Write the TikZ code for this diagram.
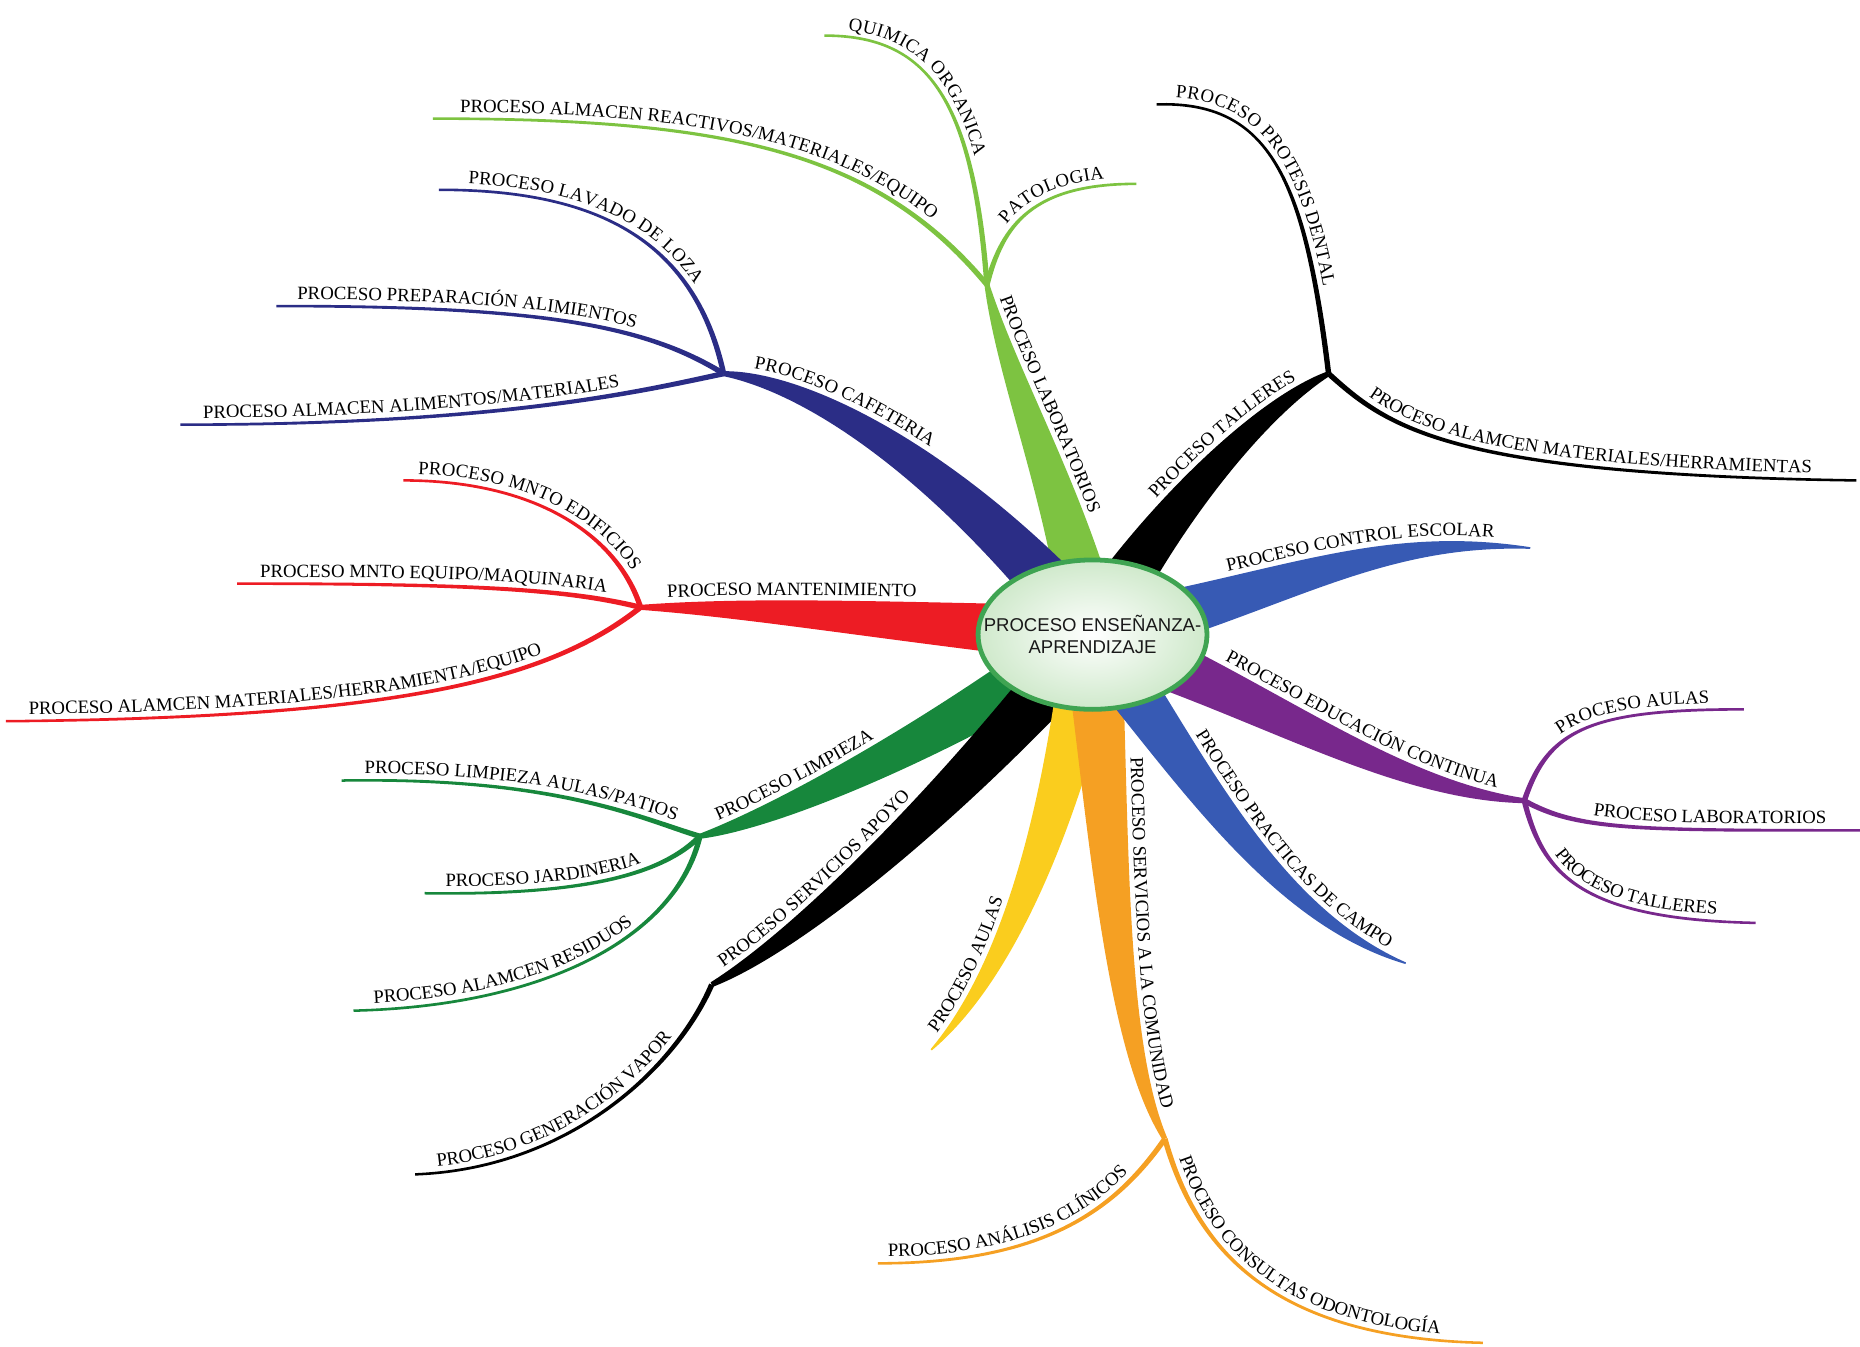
\documentclass[tikz,border=0pt]{standalone}
\usepackage{fontspec}
\setmainfont{Liberation Serif}
\newfontfamily\hubfont{Liberation Sans}
\usetikzlibrary{calc,decorations.text,shapes.geometric}

\definecolor{labgreen}{HTML}{7DC341}
\definecolor{cafnavy}{HTML}{2B2D86}
\definecolor{mntred}{HTML}{ED1C24}
\definecolor{limpgreen}{HTML}{17873C}
\definecolor{aulayellow}{HTML}{FACD1E}
\definecolor{comuorange}{HTML}{F5A023}
\definecolor{campblue}{HTML}{375AB4}
\definecolor{edupurple}{HTML}{78288C}
\definecolor{hubrim}{HTML}{3FA452}
\definecolor{hubfill}{HTML}{CFE9CB}

\newcommand{\lblfont}{\fontsize{9}{10}\selectfont}

% tapered branch: colour, start, control, control, end, half widths (pt), label, indent (pt)
\newcommand{\branch}[9]{%
  \fill[#1] ($(#2)!#6pt!90:(#3)$)
    .. controls ($(#3)!{(2*#6+#7)/3*1pt}!-90:(#2)$) and ($(#4)!{(#6+2*#7)/3*1pt}!90:(#5)$)
    .. ($(#5)!#7pt!-90:(#4)$)
    -- ($(#5)!#7pt!90:(#4)$)
    .. controls ($(#4)!{(#6+2*#7)/3*1pt}!-90:(#5)$) and ($(#3)!{(2*#6+#7)/3*1pt}!90:(#2)$)
    .. ($(#2)!#6pt!-90:(#3)$) -- cycle;
  \path[decorate, decoration={text along path, raise=2.5pt,
      text align={left indent=#9pt}, text={|\lblfont|#8}}]
    ($(#2)!#6pt!90:(#3)$)
    .. controls ($(#3)!{(2*#6+#7)/3*1pt}!-90:(#2)$) and ($(#4)!{(#6+2*#7)/3*1pt}!90:(#5)$)
    .. ($(#5)!#7pt!-90:(#4)$);
}

\tikzset{
  hub/.style={draw=hubrim, line width=2.3pt, inner color=white, outer color=hubfill},
  hubtext/.style={align=center, text=black!90, inner sep=0pt,
    font=\hubfont\fontsize{8.9}{10.5}\selectfont}
}

\begin{document}
\begin{tikzpicture}[x=0.02cm, y=-0.02cm]
	\useasboundingbox (0,0) rectangle (1568,1135);

	\coordinate (centre) at (921,535);
	\coordinate (lab) at (832,240);
	\coordinate (caf) at (610,315);
	\coordinate (mnt) at (540,512);
	\coordinate (limp) at (590,705);
	\coordinate (apoyo) at (600,830);
	\coordinate (aulatip) at (785,885);
	\coordinate (comu) at (982,960);
	\coordinate (practip) at (1185,812);
	\coordinate (edu) at (1285,675);
	\coordinate (esctip) at (1290,462);
	\coordinate (tall) at (1120,315);

	% laboratorios
	\branch{labgreen}{365,100}{620,100}{740,130}{lab}{0.6}{1.3}{PROCESO ALMACEN REACTIVOS/MATERIALES/EQUIPO}{13}
	\branch{labgreen}{695,30}{780,30}{820,80}{lab}{0.6}{1.3}{QUIMICA ORGANICA}{11}
	\branch{labgreen}{lab}{845,190}{870,155}{958,155}{1.3}{0.6}{PATOLOGIA}{30}
	\branch{labgreen}{lab}{850,320}{900,420}{centre}{1.2}{14}{PROCESO LABORATORIOS}{8}

	% cafeteria
	\branch{cafnavy}{370,160}{500,160}{585,200}{caf}{0.6}{1.3}{PROCESO LAVADO DE LOZA}{14}
	\branch{cafnavy}{233,258}{460,258}{545,275}{caf}{0.6}{1.3}{PROCESO PREPARACIÓN ALIMIENTOS}{10}
	\branch{cafnavy}{152,358}{420,358}{540,330}{caf}{0.6}{1.3}{PROCESO ALMACEN ALIMENTOS/MATERIALES}{11}
	\branch{cafnavy}{caf}{680,322}{800,390}{centre}{1.2}{14}{PROCESO CAFETERIA}{14}

	% mantenimiento
	\branch{mntred}{340,405}{450,405}{520,450}{mnt}{0.6}{1.3}{PROCESO MNTO EDIFICIOS}{7}
	\branch{mntred}{200,492}{400,492}{480,497}{mnt}{0.6}{1.3}{PROCESO MNTO EQUIPO/MAQUINARIA}{11}
	\branch{mntred}{5,608}{330,605}{460,575}{mnt}{0.6}{1.3}{PROCESO ALAMCEN MATERIALES/HERRAMIENTA/EQUIPO}{11}
	\branch{mntred}{mnt}{640,512}{760,525}{centre}{1.2}{14}{PROCESO MANTENIMIENTO}{13}

	% limpieza
	\branch{limpgreen}{288,658}{470,655}{540,690}{limp}{0.6}{1.3}{PROCESO LIMPIEZA AULAS/PATIOS}{11}
	\branch{limpgreen}{358,753}{500,755}{560,735}{limp}{0.6}{1.3}{PROCESO JARDINERIA}{10}
	\branch{limpgreen}{298,852}{460,848}{570,790}{limp}{0.6}{1.3}{PROCESO ALAMCEN RESIDUOS}{10}
	\branch{limpgreen}{limp}{650,690}{780,630}{centre}{1.2}{14}{PROCESO LIMPIEZA}{11}

	% servicios apoyo
	\branch{black}{350,990}{480,985}{570,900}{apoyo}{0.6}{1.3}{PROCESO GENERACIÓN VAPOR}{11}
	\branch{black}{apoyo}{670,795}{800,680}{centre}{1.2}{14}{PROCESO SERVICIOS APOYO}{9}

	% aulas
	\branch{aulayellow}{aulatip}{850,820}{895,690}{centre}{0.4}{14}{PROCESO AULAS}{8}

	% servicios a la comunidad
	\branch{comuorange}{740,1065}{880,1065}{940,1020}{comu}{0.6}{1.3}{PROCESO ANÁLISIS CLÍNICOS}{5}
	\branch{comuorange}{comu}{1010,1060}{1080,1128}{1250,1132}{1.3}{0.6}{PROCESO CONSULTAS ODONTOLOGÍA}{11}
	\branch{comuorange}{centre}{935,700}{940,880}{comu}{14}{1.2}{PROCESO SERVICIOS A LA COMUNIDAD}{60}

	% practicas de campo
	\branch{campblue}{centre}{1000,640}{1070,770}{practip}{14}{0.4}{PROCESO PRACTICAS DE CAMPO}{68}

	% educacion continua
	\branch{edupurple}{edu}{1305,615}{1340,598}{1470,598}{1.3}{0.6}{PROCESO AULAS}{36}
	\branch{edupurple}{edu}{1330,700}{1380,700}{1568,700}{1.3}{0.6}{PROCESO LABORATORIOS}{34}
	\branch{edupurple}{edu}{1300,735}{1330,775}{1480,778}{1.3}{0.6}{PROCESO TALLERES}{30}
	\branch{edupurple}{centre}{1060,585}{1170,665}{edu}{14}{1.2}{PROCESO EDUCACIÓN CONTINUA}{64}

	% control escolar
	\branch{campblue}{centre}{1080,500}{1160,450}{esctip}{14}{0.4}{PROCESO CONTROL ESCOLAR}{70}

	% talleres
	\branch{black}{975,88}{1070,85}{1100,150}{tall}{0.6}{1.3}{PROCESO PROTESIS DENTAL}{9}
	\branch{black}{tall}{1170,360}{1220,400}{1565,405}{1.3}{0.6}{PROCESO ALAMCEN MATERIALES/HERRAMIENTAS}{22}
	\branch{black}{centre}{975,440}{1060,345}{tall}{14}{1.2}{PROCESO TALLERES}{72}

	\path[hub] (centre) ellipse [x radius=1.93cm, y radius=1.26cm];
	\node[hubtext] (hubnode) at (centre) {PROCESO ENSEÑANZA-\\APRENDIZAJE};
\end{tikzpicture}
\end{document}
